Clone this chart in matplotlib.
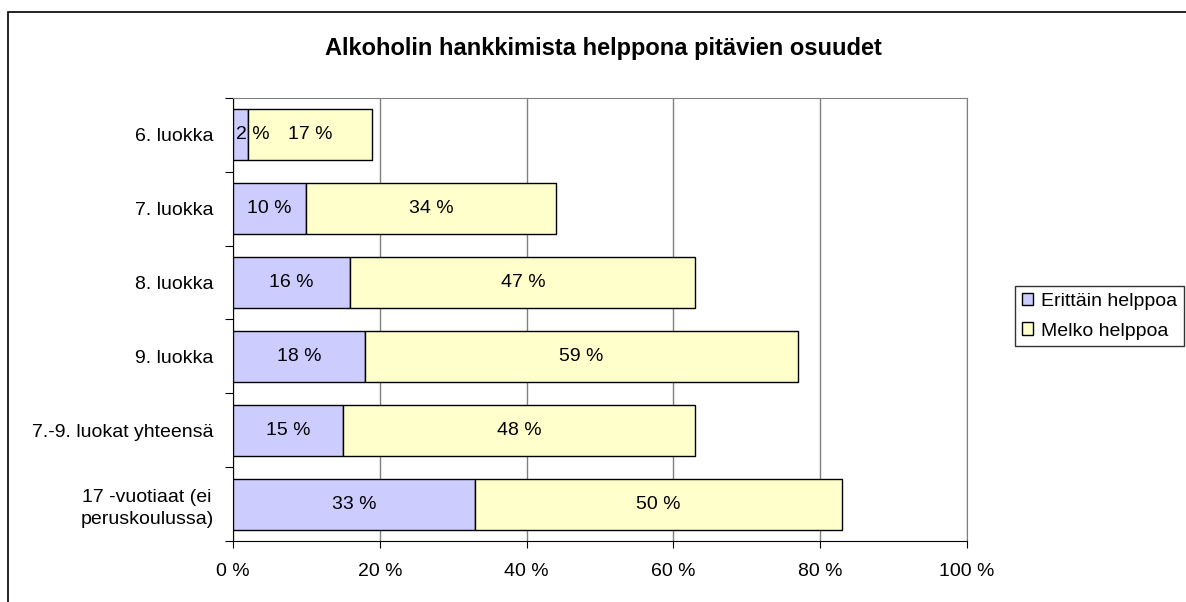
import matplotlib.pyplot as plt
from matplotlib.patches import Rectangle

plt.rcParams['font.family'] = ['Liberation Sans', 'DejaVu Sans']

categories = ["6. luokka", "7. luokka", "8. luokka", "9. luokka",
              "7.-9. luokat yhteensä", "17 -vuotiaat (ei\nperuskoulussa)"]
erittain = [2, 10, 16, 18, 15, 33]
melko = [17, 34, 47, 59, 48, 50]
series_names = ["Erittäin helppoa", "Melko helppoa"]
xticks = [0, 20, 40, 60, 80, 100]

fs = 14

fig = plt.figure(figsize=(11.86, 6.02), dpi=100)
# outer chart border (only left and top edges visible in the picture)
fig.patches.append(Rectangle((8 / 1186, -0.1), 1.2, 1 - 12 / 602 + 0.1,
                             transform=fig.transFigure, fill=False,
                             edgecolor='black', linewidth=1.2))

ax = fig.add_axes([233 / 1186, 1 - 541 / 602, (967 - 233) / 1186, (541 - 98) / 602])

n = len(categories)
ypos = list(range(n))
h = 0.69
b1 = ax.barh(ypos, erittain, height=h, color='#ccccff', edgecolor='black',
             linewidth=1, label=series_names[0], zorder=3)
b2 = ax.barh(ypos, melko, height=h, left=erittain, color='#ffffcc',
             edgecolor='black', linewidth=1, label=series_names[1], zorder=3)

for i in range(n):
    if erittain[i] < 4:
        # too narrow, excel pushes the label inside the plot area
        ax.text(0.4, i, f"{erittain[i]} %", ha='left', va='center',
                fontsize=fs, zorder=4)
    else:
        ax.text(erittain[i] / 2, i, f"{erittain[i]} %", ha='center',
                va='center', fontsize=fs, zorder=4)
    ax.text(erittain[i] + melko[i] / 2, i, f"{melko[i]} %", ha='center',
            va='center', fontsize=fs, zorder=4)

ax.set_xlim(0, 100)
ax.set_ylim(n - 0.5, -0.5)
ax.set_xticks(xticks)
ax.set_xticklabels([f"{v} %" for v in xticks], fontsize=fs)
ax.tick_params(axis='x', direction='out', length=5, pad=11, color='black')

ax.set_yticks([i - 0.5 for i in range(n + 1)])
ax.set_yticklabels([])
ax.set_yticks(ypos, minor=True)
ax.set_yticklabels(categories, minor=True, fontsize=fs,
                   multialignment='center', linespacing=1.4)
ax.tick_params(axis='y', which='major', direction='out', length=6, color='black')
ax.tick_params(axis='y', which='minor', length=0, pad=14)

ax.xaxis.grid(True, color='#808080', linewidth=1, zorder=0)
ax.set_axisbelow(True)
ax.spines['top'].set_color('#808080')
ax.spines['right'].set_color('#808080')
ax.spines['left'].set_color('black')
ax.spines['bottom'].set_color('black')

fig.text(603 / 1186, 1 - 48 / 602, "Alkoholin hankkimista helppona pitävien osuudet",
         ha='center', va='center', fontsize=17, fontweight='bold')

leg = fig.legend(handles=[b1, b2], loc='upper left',
                 bbox_to_anchor=(1015 / 1186, 1 - 286 / 602), fontsize=fs,
                 frameon=True, fancybox=False, edgecolor='black',
                 handlelength=0.6, handleheight=0.6, handletextpad=0.4,
                 borderpad=0.35, labelspacing=0.65, borderaxespad=0)
leg.get_frame().set_linewidth(1)

fig.savefig('out.png', dpi=100)
